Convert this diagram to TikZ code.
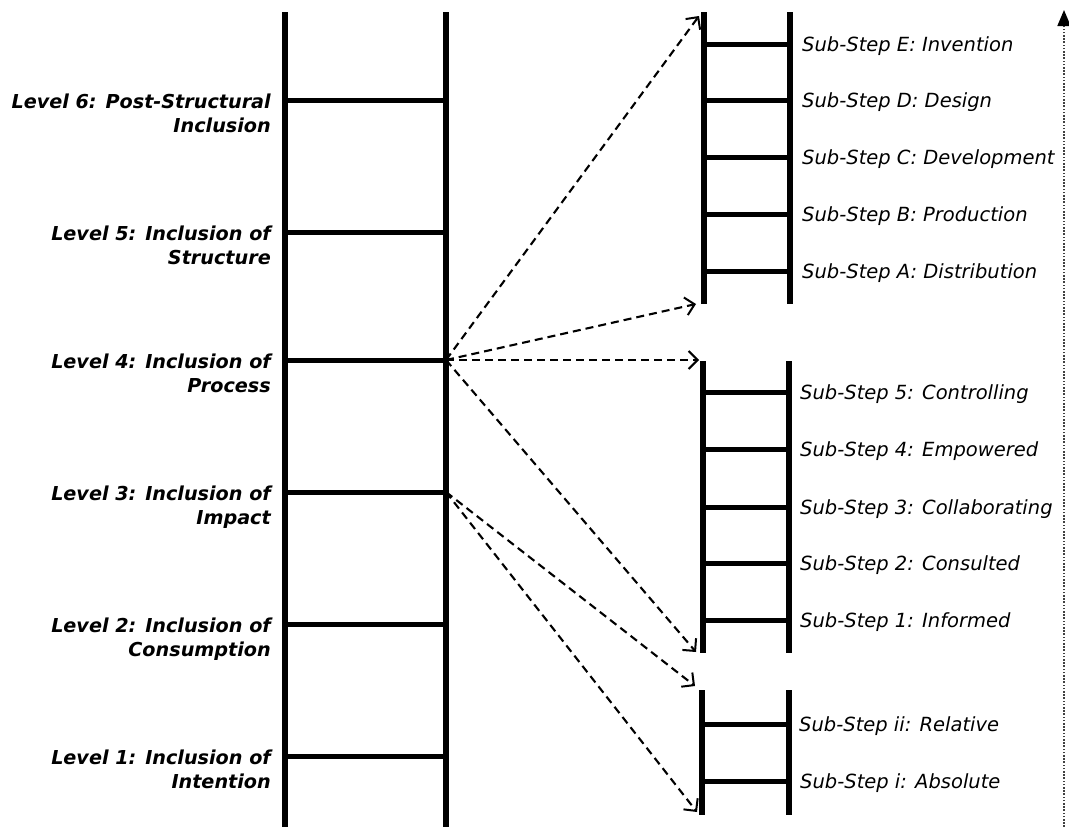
\documentclass[tikz,border=0pt]{standalone}
\usepackage{fontspec}
\setmainfont{DejaVu Sans}
\usetikzlibrary{arrows.meta}
\tikzset{
  rail/.style={line width=5.5pt},
  rung/.style={line width=5pt},
  link/.style={line width=2.1pt, dash pattern=on 8pt off 5pt, -{Straight Barb[length=9pt,width=18pt,line width=2pt]}},
  levellab/.style={anchor=north east, align=right, inner sep=0pt, font=\fontsize{19.2}{24}\selectfont\bfseries\itshape},
  sublab/.style={anchor=base west, inner sep=0pt, font=\fontsize{19.5}{22}\selectfont\itshape},
  scalearrow/.style={line width=1.8pt, dash pattern=on 1.6pt off 1.6pt, draw=black!75, -{Triangle[length=16pt,width=13pt,color=black,fill=black]}}
}
\begin{document}
\begin{tikzpicture}[x=1pt,y=-1pt]
\useasboundingbox (0,0) rectangle (1069,827);
% left ladder
\draw[rail] (285,12) -- (285,827);
\draw[rail] (446,12) -- (446,827);
\foreach \n/\y in {6/100,5/232,4/360,3/492,2/624,1/756}{
  \coordinate (L\n a) at (285,\y);
  \coordinate (L\n b) at (446,\y);
  \draw[rung] (L\n a) -- (L\n b);
}
\node[levellab] (lab6) at (271,94) {Level 6: Post-Structural\\Inclusion};
\node[levellab] (lab5) at (271,226) {Level 5: Inclusion of\\Structure};
\node[levellab] (lab4) at (271,354) {Level 4: Inclusion of\\Process};
\node[levellab] (lab3) at (271,486) {Level 3: Inclusion of\\Impact};
\node[levellab] (lab2) at (271,618) {Level 2: Inclusion of\\Consumption};
\node[levellab] (lab1) at (271,750) {Level 1: Inclusion of\\Intention};
% top right ladder
\draw[rail] (704,12) -- (704,304);
\draw[rail] (790,12) -- (790,304);
\foreach \n/\y/\t in {E/44/Invention,D/100/Design,C/157/Development,B/214/Production,A/271/Distribution}{
  \draw[rung] (704,\y) -- (790,\y);
  \node[sublab] (s\n) at (802,\y+7) {Sub-Step \n: \t};
}
% middle right ladder
\draw[rail] (703,361) -- (703,653);
\draw[rail] (789,361) -- (789,653);
\foreach \n/\y/\t in {5/392/Controlling,4/449/Empowered,3/507/Collaborating,2/563/Consulted,1/620/Informed}{
  \draw[rung] (703,\y) -- (789,\y);
  \node[sublab] (m\n) at (800,\y+7) {Sub-Step \n: \t};
}
% bottom right ladder
\draw[rail] (702,690) -- (702,815);
\draw[rail] (789,690) -- (789,815);
\draw[rung] (702,724) -- (789,724);
\draw[rung] (702,781) -- (789,781);
\node[sublab] (bii) at (799,731) {Sub-Step ii: Relative};
\node[sublab] (bi) at (800,788) {Sub-Step i: Absolute};
% arrow targets
\coordinate (t1) at (699,16);
\coordinate (t2) at (696,304);
\coordinate (t3) at (699,360);
\coordinate (t4) at (696,652);
\coordinate (t5) at (695,686);
\coordinate (t6) at (697,812);
\draw[link] (L4b) -- (t1);
\draw[link] (L4b) -- (t2);
\draw[link] (L4b) -- (t3);
\draw[link] (L4b) -- (t4);
\draw[link] (L3b) -- (t5);
\draw[link] (L3b) -- (t6);
% vertical scale arrow
\coordinate (vb) at (1064,827);
\coordinate (vt) at (1064,10);
\draw[scalearrow] (vb) -- (vt);
\end{tikzpicture}
\end{document}
